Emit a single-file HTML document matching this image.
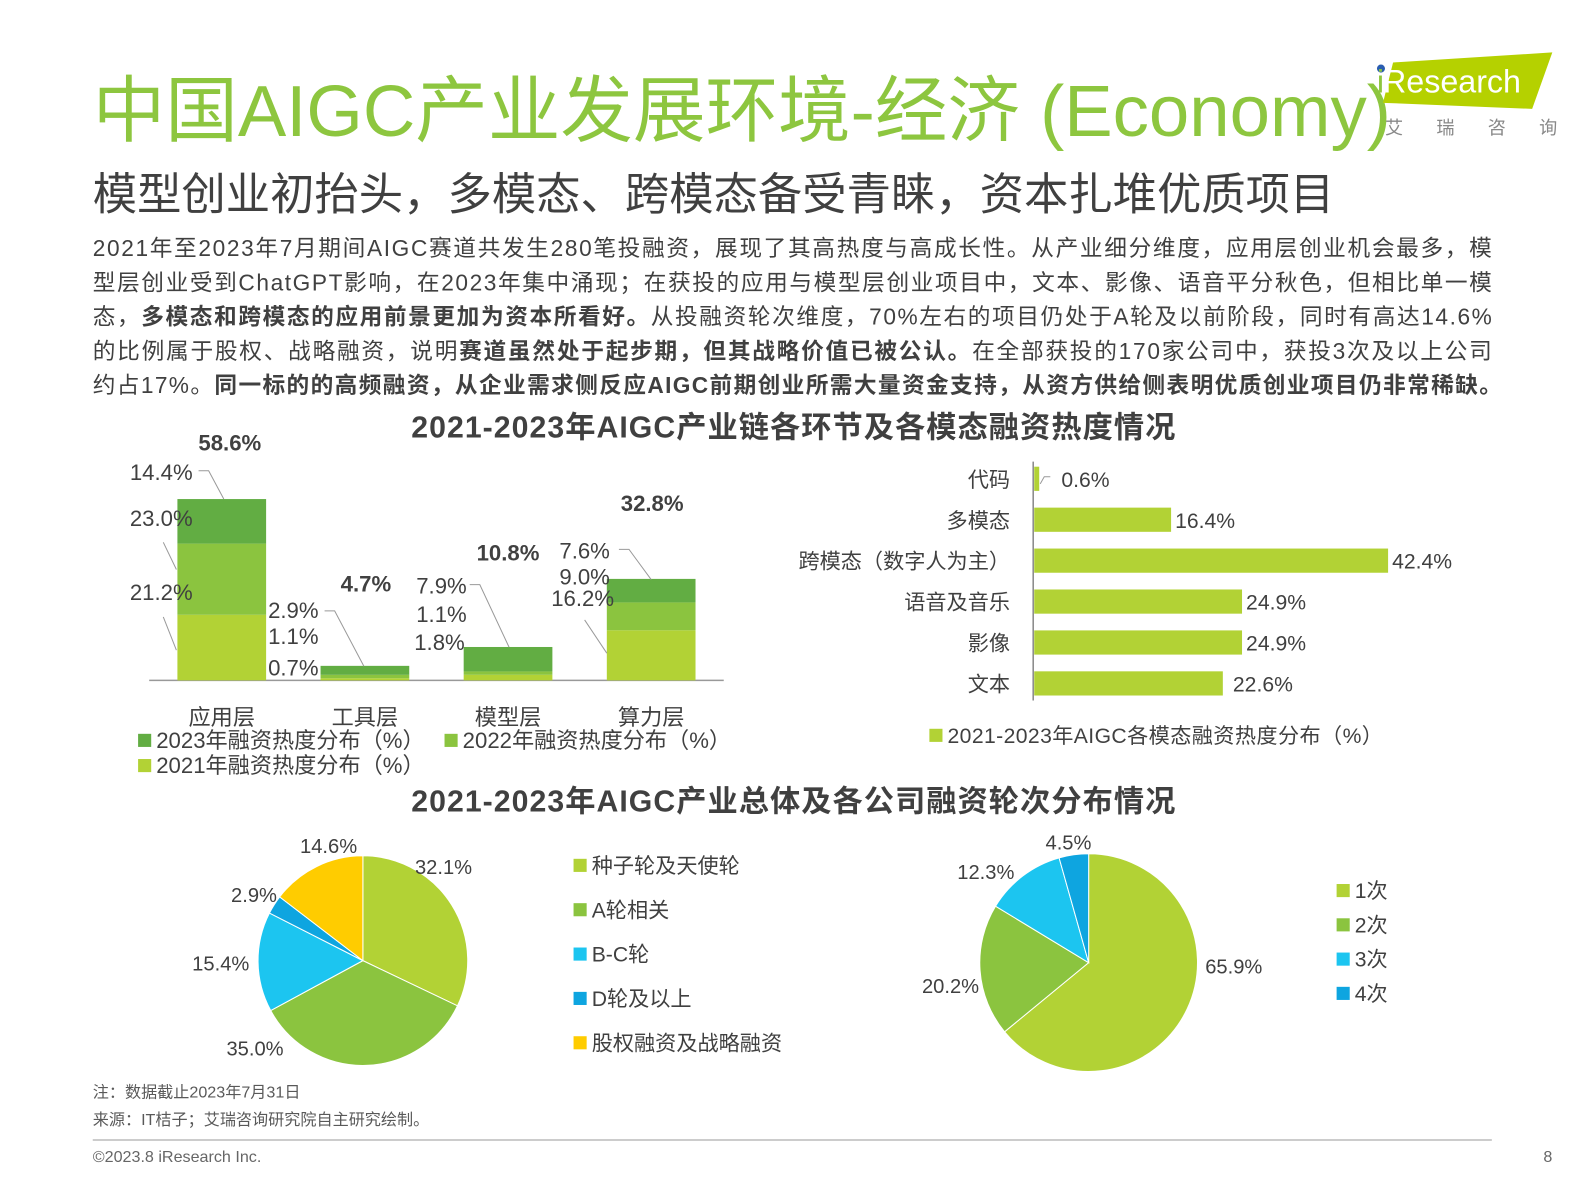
<!DOCTYPE html>
<html><head><meta charset="utf-8">
<style>
html,body{margin:0;padding:0;background:#fff;}
svg{display:block;font-family:"Liberation Sans","Noto Sans CJK SC",sans-serif;}
</style></head>
<body>
<svg width="1587" height="1190" viewBox="0 0 1587 1190" xmlns="http://www.w3.org/2000/svg">
<g id="page" transform="scale(1.008)">
<text x="92" y="135" font-size="72" fill="#8dc63f">中国AIGC产业发展环境-经济 (Economy)</text>
<g>
<polygon points="1382,62 1540,52 1520,108 1372,102" fill="#b5d100"/>
<circle cx="1370" cy="68" r="4" fill="#2a5db0"/>
<text x="1372" y="92" font-size="32" fill="#fff">Research</text>
<text x="1366" y="92" font-size="32" fill="#8dc63f">i</text>
<text x="1374" y="133" font-size="18" fill="#888" letter-spacing="33">艾瑞咨询</text>
</g>
<text x="92" y="208" font-size="44" fill="#404040">模型创业初抬头，多模态、跨模态备受青睐，资本扎堆优质项目</text>
<g font-size="22.5" fill="#404040">
<text x="92" y="254" textLength="1388" lengthAdjust="spacing">2021年至2023年7月期间AIGC赛道共发生280笔投融资，展现了其高热度与高成长性。从产业细分维度，应用层创业机会最多，模</text>
<text x="92" y="288" textLength="1388" lengthAdjust="spacing">型层创业受到ChatGPT影响，在2023年集中涌现；在获投的应用与模型层创业项目中，文本、影像、语音平分秋色，但相比单一模</text>
<text x="92" y="322" textLength="1388" lengthAdjust="spacing">态，<tspan font-weight="bold">多模态和跨模态的应用前景更加为资本所看好。</tspan>从投融资轮次维度，70%左右的项目仍处于A轮及以前阶段，同时有高达14.6%</text>
<text x="92" y="356" textLength="1388" lengthAdjust="spacing">的比例属于股权、战略融资，说明<tspan font-weight="bold">赛道虽然处于起步期，但其战略价值已被公认。</tspan>在全部获投的170家公司中，获投3次及以上公司</text>
<text x="92" y="390" textLength="1398" lengthAdjust="spacing">约占17%。<tspan font-weight="bold">同一标的的高频融资，从企业需求侧反应AIGC前期创业所需大量资金支持，从资方供给侧表明优质创业项目仍非常稀缺。</tspan></text>
</g>
<text x="408" y="434" font-size="30" font-weight="bold" fill="#404040" textLength="758" lengthAdjust="spacing">2021-2023年AIGC产业链各环节及各模态融资热度情况</text>
<text x="408" y="805" font-size="30" font-weight="bold" fill="#404040" textLength="758" lengthAdjust="spacing">2021-2023年AIGC产业总体及各公司融资轮次分布情况</text>

<g id="stack"></g>
<g id="hbar"></g>
<g id="pie1"></g>
<g id="pie2"></g>

<text x="92" y="1089" font-size="16" fill="#595959">注：数据截止2023年7月31日</text>
<text x="92" y="1116" font-size="16" fill="#595959">来源：IT桔子；艾瑞咨询研究院自主研究绘制。</text>
<line x1="92" y1="1131" x2="1480" y2="1131" stroke="#999" stroke-width="1"/>
<text x="92" y="1153" font-size="16" fill="#666">©2023.8 iResearch Inc.</text>
<text x="1540" y="1153" font-size="16" fill="#666" text-anchor="end">8</text>
</g>
</svg>
<script>
const NS="http://www.w3.org/2000/svg";
const layers=["应用层","工具层","模型层","算力层"];
const v2021=[21.2,0.7,1.8,16.2];
const v2022=[23.0,1.1,1.1,9.0];
const v2023=[14.4,2.9,7.9,7.6];
const totals=[58.6,4.7,10.8,32.8];
const modalities=["代码","多模态","跨模态（数字人为主）","语音及音乐","影像","文本"];
const modalityValues=[0.6,16.4,42.4,24.9,24.9,22.6];
const roundLabels=["种子轮及天使轮","A轮相关","B-C轮","D轮及以上","股权融资及战略融资"];
const roundValues=[32.1,35.0,15.4,2.9,14.6];
const countLabels=["1次","2次","3次","4次"];
const countValues=[65.9,20.2,12.3,4.5];

function mk(tag,attrs,parent,txt){const e=document.createElementNS(NS,tag);for(const k in attrs)e.setAttribute(k,attrs[k]);if(txt!==undefined)e.textContent=txt;parent.appendChild(e);return e;}

(function(){
const g=document.getElementById('stack');
const base=675,ppp=3.07,bw=88,x0=176,step=142;
const yS=v=>v*ppp;
const cols=["#b2d235","#8bc43f","#62ad43"];
const series=[v2021,v2022,v2023];
mk('line',{x1:148,y1:base,x2:718,y2:base,stroke:"#999","stroke-width":1.5},g);
layers.forEach((name,i)=>{
 let acc=0;const x=x0+i*step;
 series.forEach((s,j)=>{
  const h=yS(s[i]);
  const r=mk('rect',{x:x,y:base-acc-h,width:bw,height:h,fill:cols[j]},g);
  
  
  acc+=h;
 });
 const lbl=mk('text',{x:x+bw/2,y:719,"font-size":22,fill:"#404040","text-anchor":"middle"},g,name);
 
 
});
const ann=[["58.6%",228,447,true],["14.4%",160,476],["23.0%",160,522],["21.2%",160,595],
["4.7%",363,587,true],["2.9%",291,613],["1.1%",291,639],["0.7%",291,670],
["10.8%",504,556,true],["7.9%",438,589],["1.1%",438,617],["1.8%",436,645],
["32.8%",647,507,true],["7.6%",580,554],["9.0%",580,580],["16.2%",578,601]];
ann.forEach(a=>{const t=mk('text',{x:a[1],y:a[2],"font-size":22,"font-weight":a[3]?"bold":"normal",fill:"#404040","text-anchor":"middle"},g,a[0]);
 
 });
const lines=[[197,467,207,467,222,495],[162,538,175,565],[162,612,175,645],[322,606,332,606,361,661],[466,580,476,580,505,642],[614,545,624,545,646,575],[580,615,602,648]];
lines.forEach(p=>{let d="M"+p[0]+","+p[1];for(let k=2;k<p.length;k+=2)d+=" L"+p[k]+","+p[k+1];mk('path',{d:d,fill:"none",stroke:"#999","stroke-width":1},g);});
const leg=[["2023年融资热度分布（%）",137,742,"#62ad43"],["2022年融资热度分布（%）",441,742,"#8bc43f"],["2021年融资热度分布（%）",137,767,"#b2d235"]];
leg.forEach(l=>{const e=mk('g',{},g);
 
 
 mk('rect',{x:l[1],y:l[2]-14,width:13,height:13,fill:l[3]},e);
 mk('text',{x:l[1]+18,y:l[2],"font-size":22,fill:"#404040"},e,l[0]);});
})();

(function(){
const g=document.getElementById('hbar');
const ax=1025,ppp=8.28,y0=475,step=40.6,bh=24;
mk('line',{x1:ax,y1:458,x2:ax,y2:695,stroke:"#888","stroke-width":1.5},g);
modalities.forEach((m,i)=>{
 const cy=y0+i*step;const w=modalityValues[i]*ppp;
 const r=mk('rect',{x:ax+1,y:cy-bh/2,width:w,height:bh,fill:"#b2d235"},g);
 
 
 const t=mk('text',{x:1002,y:cy+8,"font-size":21,fill:"#404040","text-anchor":"end"},g,m);
 
 
 const lx=ax+1+w+(w<20?22:4)+(i==5?6:0);
 if(w<20)mk('path',{d:"M"+(ax+w+2)+","+(cy+5)+" L"+(ax+w+6)+","+(cy-2)+" L"+(ax+w+12)+","+(cy-2),fill:"none",stroke:"#999"},g);
 const v=mk('text',{x:lx,y:cy+8,"font-size":21,fill:"#404040"},g,modalityValues[i].toFixed(1)+"%");
 
 
});
const e=mk('g',{},g);


mk('rect',{x:922,y:723,width:13,height:13,fill:"#b2d235"},e);
mk('text',{x:940,y:737,"font-size":21,fill:"#404040",textLength:432,lengthAdjust:"spacing"},e,"2021-2023年AIGC各模态融资热度分布（%）");
})();

function pie(gid,vals,cols,cx,cy,r,names){
 const g=document.getElementById(gid);
 const sum=vals.reduce((a,b)=>a+b,0);let a=-Math.PI/2;
 vals.forEach((v,i)=>{
  const da=v/sum*2*Math.PI;const a2=a+da;
  const x1=cx+r*Math.cos(a),y1=cy+r*Math.sin(a),x2=cx+r*Math.cos(a2),y2=cy+r*Math.sin(a2);
  const p=mk('path',{d:`M${cx},${cy} L${x1},${y1} A${r},${r} 0 ${da>Math.PI?1:0} 1 ${x2},${y2} Z`,fill:cols[i],stroke:"#fff","stroke-width":1},g);
  
  
  a=a2;
 });
 return g;
}
const c1=["#b2d235","#8bc43f","#1cc5f0","#0ea5e0","#ffcc00"];
const g1=pie('pie1',roundValues,c1,360,953,104,roundLabels);
[[roundValues[0],440,867],[roundValues[1],253,1047],[roundValues[2],219,963],[roundValues[3],252,895],[roundValues[4],326,846]].forEach(l=>{
 const t=mk('text',{x:l[1],y:l[2],"font-size":20,fill:"#404040","text-anchor":"middle"},g1,l[0].toFixed(1)+"%");
 
 });
roundLabels.forEach((n,i)=>{const e=mk('g',{},g1);
 
 
 const y=866+i*44;mk('rect',{x:569,y:y-14,width:13,height:13,fill:c1[i]},e);
 mk('text',{x:587,y:y,"font-size":21,fill:"#404040"},e,n);});

const c2=["#b2d235","#8bc43f","#1cc5f0","#0ea5e0"];
const g2=pie('pie2',countValues,c2,1080,955,108,countLabels);
[[countValues[0],1224,966],[countValues[1],943,985],[countValues[2],978,872],[countValues[3],1060,843]].forEach(l=>{
 const t=mk('text',{x:l[1],y:l[2],"font-size":20,fill:"#404040","text-anchor":"middle"},g2,l[0].toFixed(1)+"%");
 
 });
countLabels.forEach((n,i)=>{const e=mk('g',{},g2);
 
 
 const y=891+i*34;mk('rect',{x:1326,y:y-14,width:13,height:13,fill:c2[i]},e);
 mk('text',{x:1344,y:y,"font-size":21,fill:"#404040"},e,n);});
</script>
</body></html>
